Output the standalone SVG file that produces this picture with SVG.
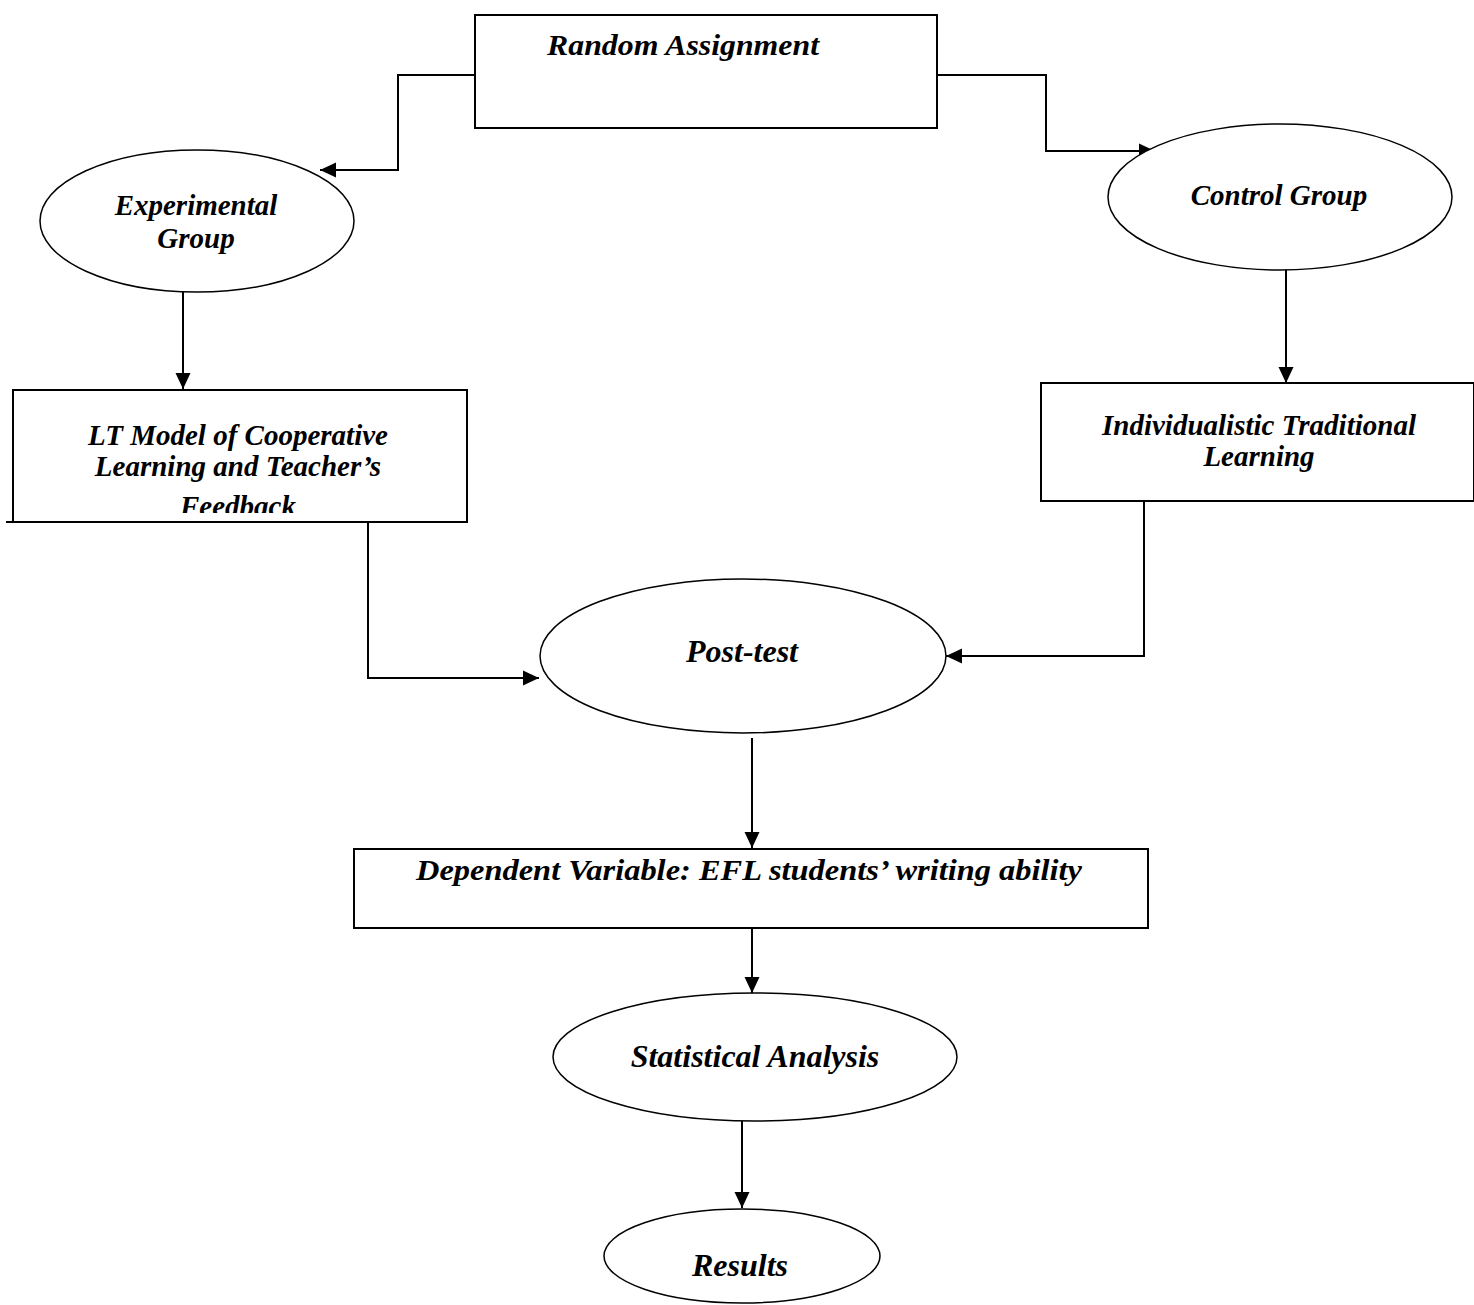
<svg xmlns="http://www.w3.org/2000/svg" width="1474" height="1305" viewBox="0 0 1474 1305">
<style>
.box{fill:#fff;stroke:#000;stroke-width:2}
.ell{fill:#fff;stroke:#000;stroke-width:1.5}
.t{font-family:"Liberation Serif","Times New Roman",serif;font-weight:bold;font-style:italic;font-size:29px;fill:#000;text-anchor:middle}
.l{font-size:32px}
.c{fill:none;stroke:#000;stroke-width:2}
</style>
<defs>
<marker id="ah" markerUnits="userSpaceOnUse" markerWidth="16" markerHeight="16" refX="16" refY="8" orient="auto">
<path d="M0,0.5 L16,8 L0,15.5 Z" fill="#000"/>
</marker>
<clipPath id="ltclip"><rect x="0" y="380" width="480" height="133"/></clipPath>
</defs>
<rect width="1474" height="1305" fill="#fff"/>
<g id="connectors">
<polyline class="c" points="475,75 398,75 398,170 320,170" marker-end="url(#ah)"/>
<polyline class="c" points="937,75 1046,75 1046,151 1155,151" marker-end="url(#ah)"/>
<line class="c" x1="183" y1="292" x2="183" y2="389" marker-end="url(#ah)"/>
<line class="c" x1="1286" y1="270" x2="1286" y2="383" marker-end="url(#ah)"/>
<polyline class="c" points="368,522 368,678 539,678" marker-end="url(#ah)"/>
<polyline class="c" points="1144,501 1144,656 946,656" marker-end="url(#ah)"/>
<line class="c" x1="752" y1="738" x2="752" y2="848" marker-end="url(#ah)"/>
<line class="c" x1="752" y1="928" x2="752" y2="993" marker-end="url(#ah)"/>
<line class="c" x1="742" y1="1121" x2="742" y2="1208" marker-end="url(#ah)"/>
</g>
<g id="random">
<rect class="box" x="475" y="15" width="462" height="113"/>
<text class="t" x="683" y="55" font-size="30" textLength="272" lengthAdjust="spacingAndGlyphs">Random Assignment</text>
</g>
<g id="experimental">
<ellipse class="ell" cx="197" cy="221" rx="157" ry="71"/>
<text class="t" x="196" y="215">Experimental</text>
<text class="t" x="196" y="248">Group</text>
</g>
<g id="control">
<ellipse class="ell" cx="1280" cy="197" rx="172" ry="73"/>
<text class="t" x="1279" y="205">Control Group</text>
</g>
<g id="lt">
<rect class="box" x="13" y="390" width="454" height="132"/>
<line class="c" x1="6" y1="522" x2="14" y2="522"/>
<g clip-path="url(#ltclip)">
<text class="t" x="238" y="445">LT Model of Cooperative</text>
<text class="t" x="238" y="476">Learning and Teacher’s</text>
<text class="t" x="238" y="516">Feedback</text>
</g>
</g>
<g id="individualistic">
<rect class="box" x="1041" y="383" width="433" height="118"/>
<text class="t" x="1259" y="435">Individualistic Traditional</text>
<text class="t" x="1259" y="466">Learning</text>
</g>
<g id="posttest">
<ellipse class="ell" cx="743" cy="656" rx="203" ry="77"/>
<text class="t l" x="742" y="662">Post-test</text>
</g>
<g id="dependent">
<rect class="box" x="354" y="849" width="794" height="79"/>
<text class="t" x="749" y="880" font-size="31" textLength="666" lengthAdjust="spacingAndGlyphs">Dependent Variable: EFL students’ writing ability</text>
</g>
<g id="statistical">
<ellipse class="ell" cx="755" cy="1057" rx="202" ry="64"/>
<text class="t l" x="755" y="1067">Statistical Analysis</text>
</g>
<g id="results">
<ellipse class="ell" cx="742" cy="1256" rx="138" ry="47"/>
<text class="t l" x="740" y="1276">Results</text>
</g>
</svg>
